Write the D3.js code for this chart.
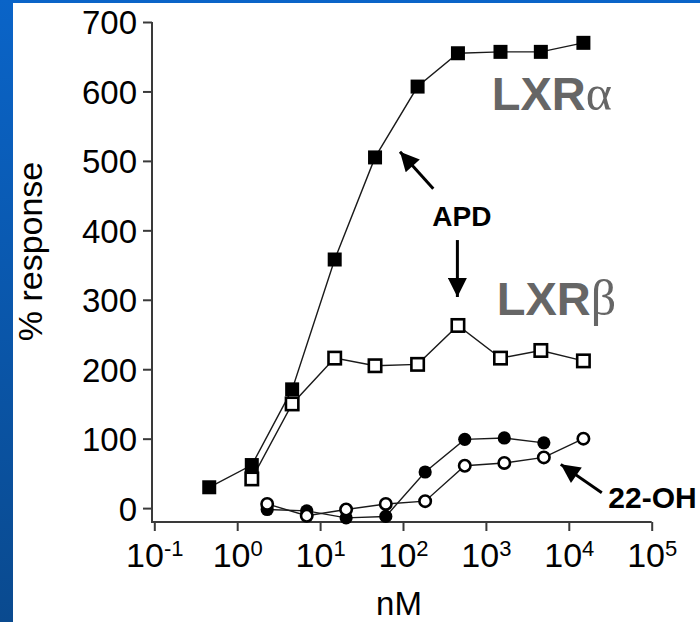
<!DOCTYPE html>
<html>
<head>
<meta charset="utf-8">
<script src="https://cdn.jsdelivr.net/npm/d3@7/dist/d3.min.js"></script>
<style>
  html, body { margin: 0; padding: 0; background: #fff; }
  svg { display: block; }
</style>
</head>
<body>
<svg id="chart" width="700" height="622"></svg>
<script>
// Concentrations (nM) and responses (%)
const squareConc = [0.46, 1.5, 4.6, 15, 46, 150, 460, 1500, 4600, 15000];
const lxrAlphaAPD = [30, 62, 171, 358, 505, 607, 655, 657, 657, 670];
const lxrBetaConc = [1.5, 4.6, 15, 46, 150, 460, 1500, 4600, 15000];
const lxrBetaAPD = [42, 150, 216, 205, 207, 263, 216, 227, 212];

const circleConc = [2.3, 6.9, 20.6, 62, 185, 556, 1667, 5000, 15000];
const lxrAlpha22OH = [-2, -4, -14, -12, 52, 99, 101, 94];
const lxrBeta22OH = [6, -11, -2, 6, 10, 61, 65, 73, 100];

const xTickExponents = [-1, 0, 1, 2, 3, 4, 5];
const yTickValues = [0, 100, 200, 300, 400, 500, 600, 700];

const svg = d3.select("#chart");
const W = 700, H = 622;

// Blue slide frame with white panel
const defs = svg.append("defs");
const grad = defs.append("linearGradient")
  .attr("id", "frameBlue").attr("x1", 0).attr("y1", 0).attr("x2", 0).attr("y2", 1);
grad.append("stop").attr("offset", "0%").attr("stop-color", "#0a64c8");
grad.append("stop").attr("offset", "100%").attr("stop-color", "#0a4a8f");
svg.append("rect").attr("width", W).attr("height", H).attr("fill", "url(#frameBlue)");
svg.append("rect").attr("x", 13).attr("y", 3).attr("width", W - 13).attr("height", H - 3).attr("fill", "#fff");

// Arrowhead marker
defs.append("marker")
  .attr("id", "head")
  .attr("viewBox", "0 0 10 10")
  .attr("refX", 10).attr("refY", 5)
  .attr("markerUnits", "userSpaceOnUse")
  .attr("markerWidth", 22).attr("markerHeight", 19)
  .attr("orient", "auto")
  .append("path").attr("d", "M0,0 L10,5 L0,10 Z").attr("fill", "#000");

const x = d3.scaleLog().domain([0.1, 1e5]).range([154.3, 651.7]);
const y = d3.scaleLinear().domain([-20, 700]).range([522, 22]);

const axisColor = "#3a3a3a";
const font = "'Liberation Sans', Arial, sans-serif";

// Y axis
const yAxis = svg.append("g")
  .attr("transform", `translate(152,0)`)
  .call(d3.axisLeft(y).tickValues(yTickValues).tickSize(9).tickPadding(6).tickSizeOuter(0));
yAxis.select(".domain").remove();
yAxis.append("line").attr("x1", 0).attr("x2", 0).attr("y1", y(700)).attr("y2", y(-20))
  .attr("stroke", axisColor).attr("stroke-width", 2);
yAxis.selectAll(".tick line").attr("stroke", axisColor).attr("stroke-width", 2);
yAxis.selectAll(".tick text")
  .attr("font-family", font).attr("font-size", 33).attr("fill", "#000")
  .attr("dy", "0.36em");

// X axis
const xAxis = svg.append("g")
  .attr("transform", `translate(0,${y(-20)})`)
  .call(d3.axisBottom(x).tickValues(xTickExponents.map(e => Math.pow(10, e))).tickSize(9).tickSizeOuter(0).tickFormat(""));
xAxis.select(".domain").remove();
xAxis.append("line").attr("x1", 151).attr("x2", x(1e5)).attr("y1", 0).attr("y2", 0)
  .attr("stroke", axisColor).attr("stroke-width", 2);
xAxis.selectAll(".tick line").attr("stroke", axisColor).attr("stroke-width", 2);
xAxis.selectAll(".tick text").remove();
xAxis.selectAll(".tick").each(function(d, i) {
  const t = d3.select(this).append("text")
    .attr("y", 45).attr("text-anchor", "middle")
    .attr("font-family", font).attr("fill", "#000");
  t.append("tspan").attr("font-size", 34).text("10");
  t.append("tspan").attr("font-size", 22).attr("dy", -11).text(String(xTickExponents[i]));
});

// Axis titles
svg.append("text")
  .attr("x", 399).attr("y", 615).attr("text-anchor", "middle")
  .attr("font-family", font).attr("font-size", 33).attr("fill", "#000")
  .text("nM");
svg.append("text")
  .attr("transform", "translate(41.5,251.5) rotate(-90)")
  .attr("text-anchor", "middle")
  .attr("font-family", font).attr("font-size", 34).attr("fill", "#000")
  .text("% response");

// Series
const series = [
  { conc: squareConc, vals: lxrAlphaAPD, shape: "square", filled: true },
  { conc: lxrBetaConc, vals: lxrBetaAPD, shape: "square", filled: false },
  { conc: circleConc.slice(0, lxrAlpha22OH.length), vals: lxrAlpha22OH, shape: "circle", filled: true },
  { conc: circleConc, vals: lxrBeta22OH, shape: "circle", filled: false }
];

const line = d3.line().x(d => x(d[0])).y(d => y(d[1]));
series.forEach(s => {
  const pts = s.conc.map((c, i) => [c, s.vals[i]]);
  svg.append("path").datum(pts).attr("d", line)
    .attr("fill", "none").attr("stroke", "#1a1a1a").attr("stroke-width", 1.4);
});

series.forEach(s => {
  const pts = s.conc.map((c, i) => [c, s.vals[i]]);
  const g = svg.append("g");
  if (s.shape === "square") {
    if (s.filled) {
      g.selectAll("rect").data(pts).join("rect")
        .attr("x", d => x(d[0]) - 7).attr("y", d => y(d[1]) - 7)
        .attr("width", 14).attr("height", 14).attr("fill", "#000");
    } else {
      g.selectAll("rect").data(pts).join("rect")
        .attr("x", d => x(d[0]) - 6.2).attr("y", d => y(d[1]) - 6.2)
        .attr("width", 12.4).attr("height", 12.4)
        .attr("fill", "#fff").attr("stroke", "#000").attr("stroke-width", 2.6);
    }
  } else {
    if (s.filled) {
      g.selectAll("circle").data(pts).join("circle")
        .attr("cx", d => x(d[0])).attr("cy", d => y(d[1])).attr("r", 6.6).attr("fill", "#000");
    } else {
      g.selectAll("circle").data(pts).join("circle")
        .attr("cx", d => x(d[0])).attr("cy", d => y(d[1])).attr("r", 5.7)
        .attr("fill", "#fff").attr("stroke", "#000").attr("stroke-width", 2.6);
    }
  }
});

// Annotations (positions in nM / % response)
const arrows = [
  { from: [232, 460], to: [92, 513] },
  { from: [453, 386], to: [453, 304] },
  { from: [25000, 22], to: [8000, 63] }
];
arrows.forEach(a => {
  svg.append("line")
    .attr("x1", x(a.from[0])).attr("y1", y(a.from[1]))
    .attr("x2", x(a.to[0])).attr("y2", y(a.to[1]))
    .attr("stroke", "#000").attr("stroke-width", 3)
    .attr("marker-end", "url(#head)");
});

svg.append("text")
  .attr("x", x(512)).attr("y", y(406)).attr("text-anchor", "middle")
  .attr("font-family", font).attr("font-weight", "bold").attr("font-size", 28).attr("fill", "#000")
  .text("APD");

svg.append("text")
  .attr("x", x(30000)).attr("y", y(0))
  .attr("font-family", font).attr("font-weight", "bold").attr("font-size", 30).attr("fill", "#000")
  .text("22-OH");

const receptorLabels = [
  { at: [1178, 574], name: "LXR", greek: "\u03B1" },
  { at: [1352, 278], name: "LXR", greek: "\u03B2" }
];
receptorLabels.forEach(l => {
  const t = svg.append("text")
    .attr("x", x(l.at[0])).attr("y", y(l.at[1]))
    .attr("fill", "#666");
  t.append("tspan").attr("font-family", font).attr("font-weight", "bold").attr("font-size", 47).text(l.name);
  t.append("tspan").attr("font-family", "'Liberation Serif', 'Times New Roman', serif")
    .attr("font-size", 50).text(l.greek);
});
</script>
</body>
</html>
